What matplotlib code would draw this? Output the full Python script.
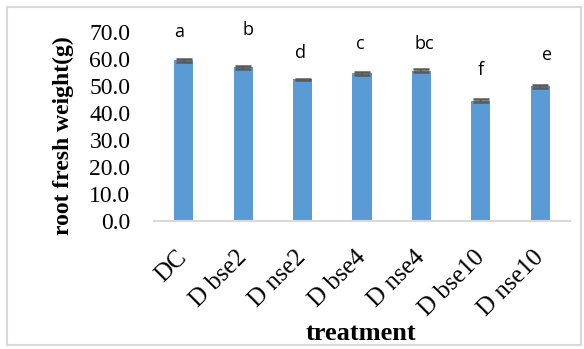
import matplotlib
matplotlib.use("Agg")
import matplotlib.pyplot as plt
import matplotlib.transforms as mtransforms
from matplotlib.patches import Rectangle

categories = ["DC", "D bse2", "D nse2", "D bse4", "D nse4", "D bse10", "D nse10"]
values = [59.6, 57.0, 52.6, 54.8, 55.7, 44.7, 50.0]
errors = [0.6, 0.5, 0.2, 0.5, 0.6, 0.5, 0.5]
letters = ["a", "b", "d", "c", "bc", "f", "e"]
yticks = [0, 10, 20, 30, 40, 50, 60, 70]

# letter placement (style only)
letter_dx = [-0.08, 0.08, -0.04, -0.03, 0.05, 0.0, 0.12]
letter_dy = [10.5, 14.0, 9.8, 10.7, 9.8, 11.5, 11.5]

fig = plt.figure(figsize=(5.84, 3.49), dpi=100)
fig.patches.append(Rectangle((7/584, 4/349), (581-7)/584, (342-4)/349,
                             transform=fig.transFigure, fill=False,
                             edgecolor="#d9d9d9", linewidth=1.5))
ax = fig.add_axes([154/584, (349-221)/349, (570-154)/584, (221-32.3)/349])
x = list(range(len(categories)))
ax.bar(x, values, width=0.32, color="#5b9bd5", zorder=2)
ax.errorbar(x, values, yerr=errors, fmt="none", ecolor="#595959",
            elinewidth=1.2, capsize=6, capthick=1.8, zorder=3)
for i, (v, l) in enumerate(zip(values, letters)):
    ax.text(i + letter_dx[i], v + letter_dy[i], l, ha="center", va="center",
            fontsize=13, family="Open Sans", color="black")

ax.set_xlim(-0.5, len(categories) - 0.5)
ax.set_ylim(0, 70)
ax.set_yticks(yticks)
ax.set_yticklabels([f"{t:.1f}" for t in yticks], family="Liberation Serif", fontsize=17)
ax.set_xticks(x)
ax.set_xticklabels(categories, family="Liberation Serif", fontsize=18,
                   rotation=45, ha="right", va="center", rotation_mode="anchor")
off = mtransforms.ScaledTranslation(-1/100, 0, fig.dpi_scale_trans)
for lab in ax.get_xticklabels():
    lab.set_transform(lab.get_transform() + off)
ax.tick_params(axis="both", length=0)
ax.tick_params(axis="y", pad=17)
ax.tick_params(axis="x", pad=24)
for s in ["left", "right", "top"]:
    ax.spines[s].set_visible(False)
ax.spines["bottom"].set_color("#d9d9d9")
ax.spines["bottom"].set_linewidth(1.5)

fig.text(63/584, 1 - 135.5/349, "root fresh weight(g)", rotation=90,
         ha="center", va="center", family="Liberation Serif",
         fontweight="bold", fontsize=17)
fig.text(361/584, 1 - 333/349, "treatment", ha="center", va="center",
         family="Liberation Serif", fontweight="bold", fontsize=19)

fig.savefig("out.png", dpi=100)
